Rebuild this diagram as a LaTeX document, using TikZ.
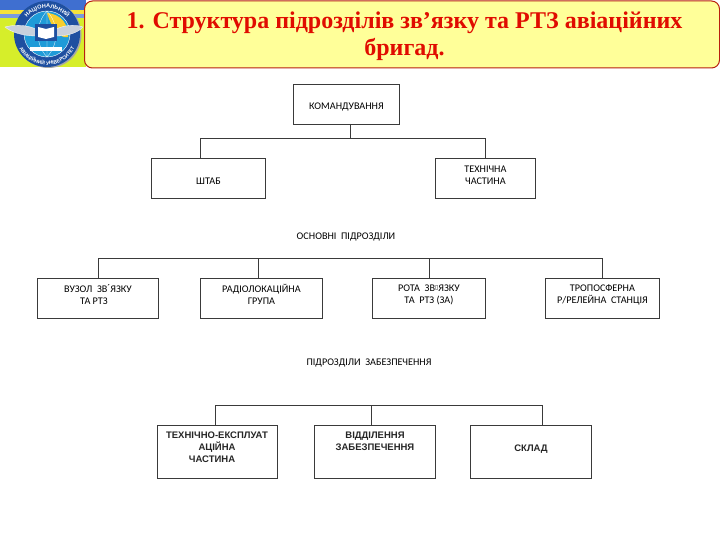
\documentclass[tikz,border=0pt]{standalone}
\usepackage{fontspec}
\setmainfont{Liberation Sans}
\newfontfamily\titlefont{Liberation Serif}
\newfontfamily\smallfont{Carlito}
\newfontfamily\symfont{DejaVu Sans}
\usetikzlibrary{decorations.text}
\definecolor{titlefill}{HTML}{FFFF99}
\definecolor{titleedge}{HTML}{B8200F}
\definecolor{titletext}{HTML}{E00C00}
\definecolor{wire}{HTML}{3A3A3A}
\definecolor{ringblue}{HTML}{1E4FA0}
\definecolor{globeblue}{HTML}{1F9BD8}
\definecolor{stripeblue}{HTML}{3F6FD0}
\definecolor{stripeyellow}{HTML}{F5E23A}
\definecolor{limeback}{HTML}{D6EE2A}
\definecolor{wingsilver}{HTML}{C8D0DC}
\begin{document}
\begin{tikzpicture}[x=1pt,y=-1pt,
  box/.style={draw=wire,line width=0.9pt,fill=white,inner sep=0pt,anchor=north west,align=center,text=black},
  lab/.style={font=\smallfont\fontsize{10.2}{12}\selectfont,align=center,text=black,inner sep=0pt},
  smalltext/.style={font=\smallfont\fontsize{10.2}{12}\selectfont},
  bigtext/.style={font=\bfseries\fontsize{9.5}{12}\selectfont,text=black!85},
  wireline/.style={draw=wire,line width=0.9pt}]
\useasboundingbox (0,0) rectangle (720,540);
\fill[white] (0,0) rectangle (720,540);

% corner backdrop
\fill[limeback] (0,0) rectangle (86,67);
\fill[stripeblue] (0,0) rectangle (86,10);
\fill[stripeyellow] (0,10) rectangle (86,14);
\fill[stripeblue!70!white] (0,14) rectangle (86,18);
% emblem
\fill[black!35] (48.5,35) circle (33);
\fill[ringblue] (47,34) circle (33);
\fill[globeblue] (47,34) circle (23);
\fill[stripeyellow!80!orange] (47,13) .. controls (62,14) and (69,26) .. (68,37) .. controls (60,39) and (52,29) .. (47,13);
\draw[white,line width=0.4pt] (47,34) circle (23);
\draw[white,line width=0.3pt] (24,34) -- (70,34) (47,11) -- (47,57)
  (47,11) .. controls (35,24) and (35,44) .. (47,57)
  (47,11) .. controls (59,24) and (59,44) .. (47,57);
\fill[white] (30,47) rectangle (62,51);
\fill[wingsilver,draw=white,line width=0.3pt] (36,29) .. controls (25,24) and (12,25) .. (5,27) .. controls (12,33) and (25,36) .. (36,36) -- cycle;
\fill[wingsilver,draw=white,line width=0.3pt] (56,29) .. controls (67,24) and (78,25) .. (83,27) .. controls (78,33) and (67,36) .. (56,36) -- cycle;
\fill[ringblue] (35,24) rectangle (57,41);
\fill[white] (38,27) -- (46,29) -- (54,27) -- (54,37) -- (46,39) -- (38,37) -- cycle;
\path[decorate,decoration={text along path,text align=center,
  text={|\fontsize{5.6}{6}\selectfont\bfseries\color{white}|НАЦІОНАЛЬНИЙ}}]
  (21.9,27.3) arc[start angle=195,end angle=345,radius=26];
\path[decorate,decoration={text along path,text align=center,
  text={|\fontsize{5}{6}\selectfont\bfseries\color{white}|АВІАЦІЙНИЙ УНІВЕРСИТЕТ}}]
  (16.5,39.4) arc[start angle=170,end angle=10,radius=31];

% title
\node[draw=titleedge,line width=1pt,fill=titlefill,rounded corners=8pt,anchor=north west,
  minimum width=635pt,minimum height=67pt,inner sep=0pt] (title) at (84,0.5) {};
\node[font=\titlefont\bfseries\fontsize{24}{27}\selectfont,text=titletext,align=center,inner sep=0pt,anchor=center]
  (titletxt) at (404.5,36) {1. Структура підрозділів зв’язку та РТЗ авіаційних\\бригад.};

% level 1
\node[box,smalltext,minimum width=106pt,minimum height=40pt] (cmd) at (293,84) {\mbox{}\\КОМАНДУВАННЯ};
\node[box,smalltext,minimum width=114pt,minimum height=40pt] (hq) at (151,158) {\mbox{}\\ШТАБ};
\node[box,smalltext,minimum width=100pt,minimum height=40pt] (tech) at (435,158) {ТЕХНІЧНА\\ЧАСТИНА\\[-6pt]\mbox{}};
\coordinate (busa) at (350,138);
\coordinate (cmdout) at (350,124);
\coordinate (hqin) at (200,158);
\coordinate (techin) at (485,158);
\draw[wireline] (cmdout) -- (busa);
\draw[wireline] (hqin) |- (busa);
\draw[wireline] (techin) |- (busa);

\node[lab] (main) at (346,237) {ОСНОВНІ\ \ ПІДРОЗДІЛИ};

% level 2
\node[box,smalltext,minimum width=121pt,minimum height=40pt] (uz) at (37,278) {ВУЗОЛ\ \ ЗВ\raisebox{1pt}{´}ЯЗКУ\\\hspace*{-8pt}ТА РТЗ\\[-4pt]\mbox{}};
\node[box,smalltext,minimum width=122pt,minimum height=40pt] (rad) at (200,278) {РАДІОЛОКАЦІЙНА\\ГРУПА\\[-4pt]\mbox{}};
\node[box,smalltext,minimum width=113pt,minimum height=40pt] (rota) at (372,278) {РОТА\ \ ЗВ{\symfont\fontsize{6}{6}\selectfont\raisebox{2pt}{▯}}ЯЗКУ\\ТА\ \ РТЗ (ЗА)\\[-4pt]\mbox{}};
\node[box,smalltext,minimum width=114pt,minimum height=40pt] (tropo) at (545,278) {ТРОПОСФЕРНА\\Р/РЕЛЕЙНА\ \ СТАНЦІЯ\\[-4pt]\mbox{}};
\coordinate (busb) at (350,258);
\coordinate (uzin) at (98,278);
\coordinate (radin) at (258,278);
\coordinate (rotain) at (429,278);
\coordinate (tropoin) at (602,278);
\draw[wireline] (uzin) |- (busb);
\draw[wireline] (radin) |- (busb);
\draw[wireline] (rotain) |- (busb);
\draw[wireline] (tropoin) |- (busb);

\node[lab] (supp) at (369,363) {ПІДРОЗДІЛИ\ \ ЗАБЕЗПЕЧЕННЯ};

% level 3
\node[box,minimum width=120pt,minimum height=53pt] (exp) at (157,425) {};
\node[bigtext,anchor=north,align=center,inner sep=0pt] (exptxt) at (217,432) {ТЕХНІЧНО-ЕКСПЛУАТ\\АЦІЙНА\\\hspace*{-10pt}ЧАСТИНА};
\node[box,minimum width=121pt,minimum height=53pt] (sec) at (314,425) {};
\node[bigtext,anchor=north,align=center,inner sep=0pt] (sectxt) at (375,432) {ВІДДІЛЕННЯ\\ЗАБЕЗПЕЧЕННЯ};
\node[box,minimum width=121pt,minimum height=53pt] (sklad) at (470,425) {};
\node[bigtext,anchor=north,align=center,inner sep=0pt] (skladtxt) at (531,444.5) {СКЛАД};
\coordinate (busc) at (371,405);
\coordinate (expin) at (215,425);
\coordinate (secin) at (371,425);
\coordinate (skladin) at (542,425);
\draw[wireline] (expin) |- (busc);
\draw[wireline] (secin) -- (busc);
\draw[wireline] (skladin) |- (busc);
\end{tikzpicture}
\end{document}
